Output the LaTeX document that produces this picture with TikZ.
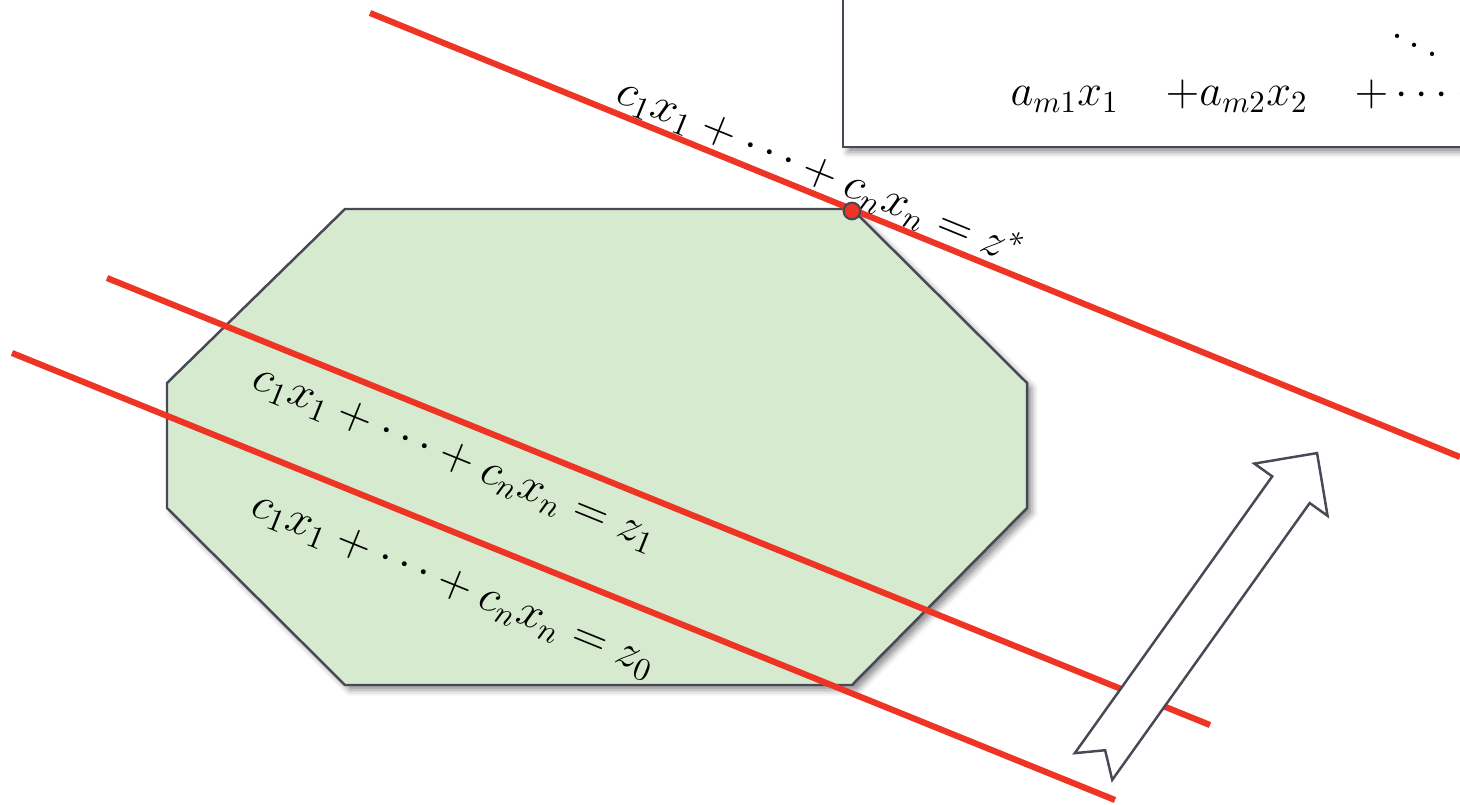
\documentclass[tikz,border=0pt]{standalone}
\usepackage{amsmath,amssymb}
\usepackage{xcolor}
\usepackage{tikz}
\usetikzlibrary{calc,positioning,shadows.blur}
\definecolor{lpRed}{RGB}{238,52,36}
\definecolor{lpGreen}{RGB}{213,234,207}
\definecolor{lpGray}{RGB}{72,72,86}

\tikzset{
  level line/.style={lpRed, line width=2pt},
  level label/.style={sloped, anchor=base, font=\Large, text=black, inner sep=0pt, scale=1.04},
  soft shadow/.style={blur shadow={shadow xshift=1.6pt, shadow yshift=-1.6pt,
      shadow blur radius=2pt, shadow opacity=45}},
  row term/.style={anchor=base west, font=\Large, inner sep=0pt}
}

\begin{document}
\begin{tikzpicture}[x=0.0114cm, y=-0.0114cm]
\useasboundingbox (0,0) rectangle (1460,804);
\clip (0,0) rectangle (1460,804);

% constraint system, cut off by the page
\draw[lpGray, line width=0.9pt, fill=white, soft shadow] (843,-40) rectangle (1520,147);
\node[font=\Large, inner sep=0pt] (ddots) at (1415,36) {$\ddots$};
\node[row term] (am1) at (1010,106) {$a_{m1}x_1$};
\node[row term] (am2) at (1165,106) {$+a_{m2}x_2$};
\node[row term] (amn) at (1354,106) {$+\cdots+a_{mn}x_n$};

% feasible region
\draw[lpGray, line width=0.8pt, fill=lpGreen, soft shadow]
  (345,209) -- (852,209) -- (1027,383) -- (1027,508) -- (852,685)
  -- (345,685) -- (167,508) -- (167,383) -- cycle;

% level lines of the objective
\coordinate (optA) at (370,13);
\coordinate (optB) at (1460,457);
\coordinate (oneA) at (107,278);
\coordinate (oneB) at (1210,725);
\coordinate (zeroA) at (12,353);
\coordinate (zeroB) at (1115,800);

\draw[level line] (zeroA) -- (zeroB)
  node[level label, pos=0.417, yshift=-18.8pt] (labzero) {$c_1x_1+\cdots+c_nx_n=z_0$};
\draw[level line] (oneA) -- (oneB)
  node[level label, pos=0.328, yshift=-14.9pt] (labone) {$c_1x_1+\cdots+c_nx_n=z_1$};
\draw[level line] (optA) -- (optB)
  node[level label, pos=0.405, yshift=3.1pt] (labopt) {$c_1x_1+\cdots+c_nx_n=z^*$};

% optimal vertex
\node[circle, fill=lpRed, draw=lpGray, line width=0.7pt, minimum size=5.4pt,
  inner sep=0pt] (opt) at (852,211) {};

% direction of improvement
\begin{scope}[shift={(1093.5,766.5)}, rotate=54.5]
  \draw[lpGray, line width=0.8pt, fill=white]
    (0,23) -- (20,0) -- (0,-23) -- (340,-23) -- (340,-45) -- (385,0)
    -- (340,45) -- (340,23) -- cycle;
\end{scope}
\end{tikzpicture}
\end{document}
